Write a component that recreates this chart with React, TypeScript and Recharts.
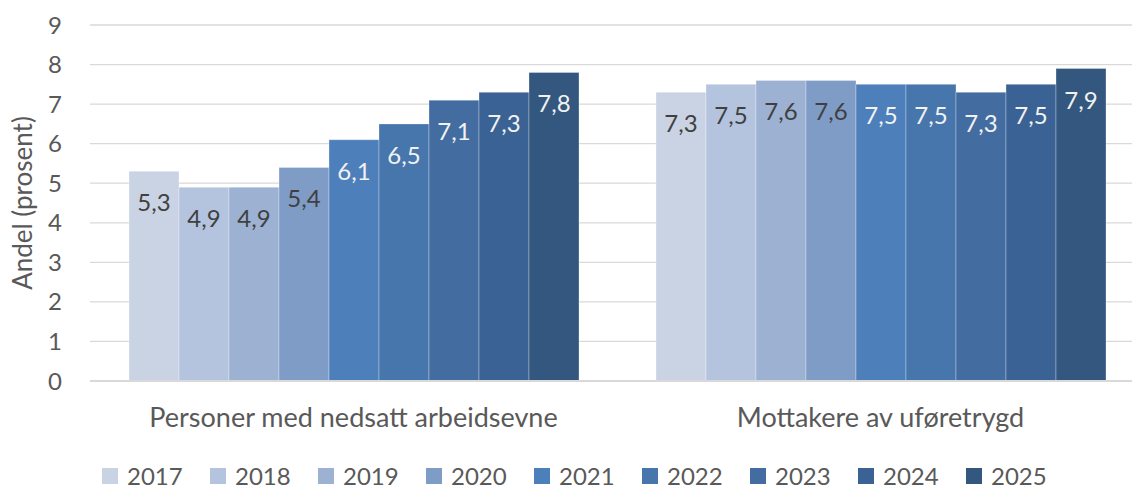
import { BarChart, Bar, XAxis, YAxis, CartesianGrid, LabelList, Label } from "recharts";

const groups = ["Personer med nedsatt arbeidsevne", "Mottakere av uføretrygd"];
const years = ["2017", "2018", "2019", "2020", "2021", "2022", "2023", "2024", "2025"];
const nedsattArbeidsevne = [5.3, 4.9, 4.9, 5.4, 6.1, 6.5, 7.1, 7.3, 7.8];
const uforetrygd = [7.3, 7.5, 7.6, 7.6, 7.5, 7.5, 7.3, 7.5, 7.9];
const yTicks = [0, 1, 2, 3, 4, 5, 6, 7, 8, 9];

const colors = [
  "#cad3e4", "#b5c4de", "#9db1d3", "#7f9cc7", "#4d7fbb",
  "#4776ad", "#436da1", "#3a6294", "#33577f",
];
const darkLabel = "#404040";
const lightLabel = "#f2f2f2";
const font = "Lato, 'Open Sans', sans-serif";

const rows = groups.map((g, gi) => {
  const src = gi === 0 ? nedsattArbeidsevne : uforetrygd;
  const row: Record<string, string | number> = { group: g };
  years.forEach((y, i) => { row[y] = src[i]; });
  return row;
});

const fmt = (v: number) => v.toFixed(1).replace(".", ",");

function barLabel(fill: string) {
  return (props: any) => {
    const { x, y, width, value } = props;
    return (
      <text x={x + width / 2} y={y + 40} textAnchor="middle" fill={fill} fontSize={24} fontFamily={font}>
        {fmt(value)}
      </text>
    );
  };
}

export default function App() {
  return (
    <div style={{ position: "absolute", left: 0, top: 0, width: 1132, height: 489, overflow: "hidden", background: "#fff", fontFamily: font }}>
      <BarChart
        width={1150}
        height={489}
        data={rows}
        margin={{ top: 25, right: 6, left: 0, bottom: 48 }}
        barGap={0}
        barSize={50}
      >
        <CartesianGrid vertical={false} stroke="#d9d9d9" strokeWidth={1.3} />
        <XAxis
          dataKey="group"
          height={60}
          axisLine={{ stroke: "#d9d9d9", strokeWidth: 2 }}
          tickLine={false}
          tickMargin={21}
          tick={{ fill: "#595959", fontSize: 27, fontFamily: font }}
          interval={0}
        />
        <YAxis
          width={90}
          domain={[0, 9]}
          ticks={yTicks}
          axisLine={false}
          tickLine={false}
          tickMargin={22}
          tick={{ fill: "#595959", fontSize: 24, fontFamily: font }}
        >
          <Label
            content={() => (
              <text transform="translate(22,203) rotate(-90)" textAnchor="middle" dominantBaseline="central" fill="#595959" fontSize={26} fontFamily={font}>
                Andel (prosent)
              </text>
            )}
          />
        </YAxis>
        {years.map((yr, i) => (
          <Bar key={yr} dataKey={yr} fill={colors[i]} stroke="#ffffff" strokeOpacity={0.3} strokeWidth={1} isAnimationActive={false}>
            <LabelList dataKey={yr} content={barLabel(i < 4 ? darkLabel : lightLabel)} />
          </Bar>
        ))}
      </BarChart>
      <div style={{ position: "absolute", left: 102, top: 465, display: "flex" }}>
        {years.map((yr, i) => (
          <div key={yr} style={{ width: 108, height: 22, display: "flex", alignItems: "center" }}>
            <span style={{ width: 16, height: 16, background: colors[i], display: "inline-block", marginRight: 9 }} />
            <span style={{ fontSize: 24, color: "#595959", lineHeight: "22px" }}>{yr}</span>
          </div>
        ))}
      </div>
    </div>
  );
}
